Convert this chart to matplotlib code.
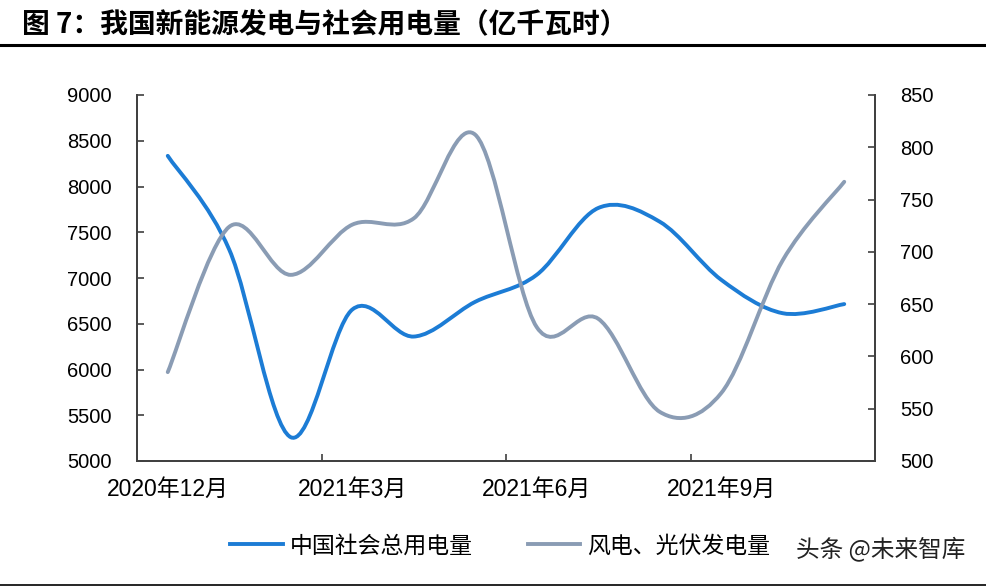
import matplotlib
matplotlib.use("Agg")
import matplotlib.pyplot as plt
import numpy as np
from matplotlib.path import Path
from matplotlib.patches import PathPatch
from matplotlib.lines import Line2D

plt.rcParams['font.family'] = ['Liberation Sans', 'Noto Sans CJK SC', 'DejaVu Sans']

months = ["2020年12月", "2021年1月", "2021年2月", "2021年3月", "2021年4月", "2021年5月",
          "2021年6月", "2021年7月", "2021年8月", "2021年9月", "2021年10月", "2021年11月"]
total_power = [8335, 7310, 5260, 6655, 6360, 6740, 7035, 7765, 7615, 6980, 6615, 6715]
wind_solar = [585, 724, 678, 726, 732, 812, 628, 636, 547, 565, 692, 767]
tick_labels = ["2020年12月", "2021年3月", "2021年6月", "2021年9月"]
tick_idx = [0, 3, 6, 9]

BLUE = "#1C7CD5"
GRAY = "#8A9CB4"

def smooth_path(xs, ys):
    xs = np.asarray(xs, float); ys = np.asarray(ys, float)
    n = len(xs)
    verts = [(xs[0], ys[0])]
    codes = [Path.MOVETO]
    for i in range(n - 1):
        im1 = max(i - 1, 0); ip2 = min(i + 2, n - 1)
        c1 = (xs[i] + (xs[i + 1] - xs[im1]) / 6, ys[i] + (ys[i + 1] - ys[im1]) / 6)
        c2 = (xs[i + 1] - (xs[ip2] - xs[i]) / 6, ys[i + 1] - (ys[ip2] - ys[i]) / 6)
        verts += [c1, c2, (xs[i + 1], ys[i + 1])]
        codes += [Path.CURVE4] * 3
    return Path(verts, codes)

fig = plt.figure(figsize=(9.87, 5.87), dpi=100)
ax = fig.add_axes([137/987, 1 - 461/587, (875 - 137)/987, (461 - 95)/587])
ax2 = ax.twinx()

x = np.arange(len(months))
ax.add_patch(PathPatch(smooth_path(x, total_power), fill=False, edgecolor=BLUE, lw=2.8,
                       capstyle='round', zorder=3))
ax2.add_patch(PathPatch(smooth_path(x, wind_solar), fill=False, edgecolor=GRAY, lw=2.8,
                        capstyle='round', zorder=3))

ax.set_xlim(-0.5, 11.5)
ax.set_ylim(5000, 9000)
ax2.set_ylim(500, 850)
ax.set_yticks(np.arange(5000, 9001, 500))
ax2.set_yticks(np.arange(500, 851, 50))

spc = "#404040"
for a in (ax, ax2):
    a.spines['top'].set_visible(False)
    for s in ('left', 'right', 'bottom'):
        a.spines[s].set_color(spc)
        a.spines[s].set_linewidth(1.3)
    a.set_facecolor('none')

ax.tick_params(axis='y', direction='in', length=5, width=1.2, color=spc, labelsize=14.5, pad=18)
ax2.tick_params(axis='y', direction='in', length=5, width=1.2, color=spc, labelsize=14.5, pad=18)

ax.set_xticks([2.5, 5.5, 8.5])
ax.set_xticklabels([])
ax.set_xticks(tick_idx, minor=True)
ax.set_xticklabels(tick_labels, minor=True, fontsize=16.5)
ax.tick_params(axis='x', which='major', direction='in', length=5, width=1.2, color=spc)
ax.tick_params(axis='x', which='minor', length=0, pad=12)

fig.text(22/987, 1 - 24/587, "图 7：我国新能源发电与社会用电量（亿千瓦时）", fontsize=20,
         fontweight='bold', family=['Noto Sans CJK SC', 'DejaVu Sans'], va='center', ha='left')
fig.add_artist(Line2D([0, 1], [1 - 45/587, 1 - 45/587], color='black', lw=2.2))
fig.add_artist(Line2D([0, 1], [1 - 585/587, 1 - 585/587], color='black', lw=1.2))

handles = [Line2D([], [], color=BLUE, lw=2.8), Line2D([], [], color=GRAY, lw=2.8)]
fig.legend(handles, ["中国社会总用电量", "风电、光伏发电量"], ncol=2, frameon=False,
           loc='center', bbox_to_anchor=(500/987, 1 - 546/587), handlelength=2.3,
           handletextpad=0.3, columnspacing=2.4,
           prop={'family': ['Noto Sans CJK SC', 'DejaVu Sans'], 'size': 16.5})

fig.text(965/987, 1 - 549/587, "头条 @未来智库", fontsize=17, color='#222222',
         family=['Noto Sans CJK SC', 'DejaVu Sans'], ha='right', va='center')

fig.savefig("out.png", dpi=100)
